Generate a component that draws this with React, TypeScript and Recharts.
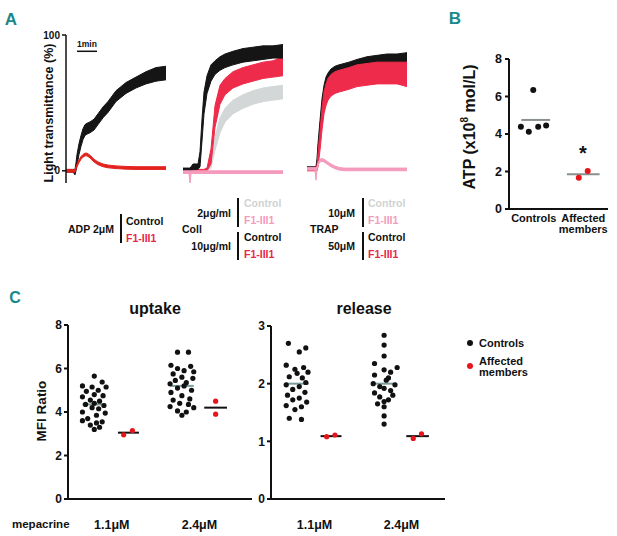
import React from 'react'
import { ComposedChart, Area, XAxis, YAxis, ReferenceLine, ScatterChart, Scatter } from 'recharts'

const FONT = '"Liberation Sans", Arial, sans-serif'
const TEAL = '#17898b'
const INK = '#111'

// ---- Panel A: aggregation traces (seconds after start, % transmittance band low/high) ----
const TIME = [0, 18, 21, 24, 27, 30, 33, 39, 45, 51, 57, 63, 72, 84, 96, 111, 126, 150, 180, 210, 240, 270, 300]

const adpCtrlLo = [-1, -1, -1, -2, -3, 0, 4, 12, 18, 23, 26, 27, 28, 30, 34, 39, 43, 51, 57, 61, 64, 66, 67]
const adpCtrlHi = [1, 1, 1, 1, 1, 6, 12, 20, 26, 31, 34, 35, 36, 38, 42, 47, 51, 59, 65, 69, 73, 76, 77]
const adpPatLo = [-1, -1, -1, -1, -1, 1, 3, 6, 8.5, 10, 11, 11, 9.5, 6.5, 4.5, 3, 2.2, 1.6, 1.2, 1, 1, 1, 1]
const adpPatHi = [1, 1, 1, 1, 1, 3, 5, 8, 10.5, 12, 13, 13, 11.5, 8.5, 6.5, 5, 4.2, 3.6, 3.2, 3, 3, 3, 3]

const coll10CtrlLo = [0, 0, 0, 0, 0, 1, 1, 1, 1, 3, 22, 42, 57, 66, 71, 74, 76, 78, 80, 81, 82, 83, 83]
const coll10CtrlHi = [2, 2, 2, 3, 4, 5, 5, 5, 5, 14, 38, 58, 70, 78, 81, 84, 86, 88, 90, 91, 92, 92, 93]
const coll10PatLo = [-1, -1, -1, -1, -1, -1, -1, -1, -1, -1, -1, -1, 0, 5, 32, 49, 56, 61, 64, 66, 68, 69, 70]
const coll10PatHi = [1, 1, 1, 1, 1, 1, 1, 1, 1, 1, 1, 1, 2, 16, 48, 63, 68, 73, 76, 78, 80, 81, 84]
const coll2CtrlLo = [-1, -1, -1, -1, -1, -1, -1, -1, -1, -1, -1, -1, 0, 2, 15, 28, 36, 42, 46, 49, 51, 52, 53]
const coll2CtrlHi = [1, 1, 1, 1, 1, 1, 1, 1, 1, 1, 1, 1, 2, 9, 25, 39, 46, 52, 56, 59, 61, 62, 63]
const coll2PatLo = [-2, -2, -9, -2, -2, -2, -2, -2, -2, -2, -2, -2, -2, -2, -2, -2, -2, -2, -2, -2, -2, -2, -2]
const coll2PatHi = [0, 0, 0, 0, 0, 0, 0, 0, 0, 0, 0, 0, 0, 0, 0, 0, 0, 0, 0, 0, 0, 0, 0]

const trap50CtrlLo = [1, 1, 1, 1, 1, 3, 10, 27, 43, 53, 59, 62, 65, 67, 68, 69, 70, 72, 74, 75, 76, 77, 77]
const trap50CtrlHi = [3, 3, 3, 3, 3, 9, 20, 37, 53, 63, 69, 72, 75, 77, 78, 79, 80, 82, 84, 85, 86, 86, 87]
const trap10CtrlLo = [0, 0, 0, 0, 0, 1, 7, 23, 39, 49, 55, 58, 61, 63, 65, 66, 67, 69, 71, 72, 73, 73, 74]
const trap10CtrlHi = [2, 2, 2, 2, 2, 7, 17, 33, 49, 59, 65, 68, 71, 73, 75, 76, 77, 79, 81, 82, 83, 83, 84]
const trap50PatLo = [0, 0, 0, 0, 0, 0, 3, 15, 30, 42, 48, 52, 55, 57, 58, 59, 60, 62, 63, 64, 64, 64, 62]
const trap50PatHi = [2, 2, 2, 2, 2, 4, 13, 29, 46, 58, 64, 68, 71, 73, 74, 75, 76, 78, 79, 80, 80, 80, 80]
const trap10PatLo = [0.5, 0.5, 0.5, 0.5, -7, 1, 4, 6.5, 7, 6.5, 5.5, 4.5, 3, 1.5, 0.5, 0, 0, 0, 0, 0, 0, 0, 0]
const trap10PatHi = [2.5, 2.5, 2.5, 2.5, 2.5, 3, 6, 8.5, 9, 8.5, 7.5, 6.5, 5, 3.5, 2.5, 2, 2, 2, 2, 2, 2, 2, 2]

const BLACK = '#151515'
const RED_ADP = '#e3231d'
const RED = '#ef2b4b'
const GREY = '#d3d7d7'
const PINK = '#f59bbd'

// ---- Panel B: ATP ----
const atpControls = [6.35, 4.39, 4.12, 4.39, 4.45]
const atpControlsDx = [0.49, 0.24, 0.4, 0.59, 0.75]
const atpAffected = [1.67, 2.03]
const atpAffectedDx = [1.41, 1.59]
const atpMeans = [4.75, 1.85]

// ---- Panel C: mepacrine ----
const GROUP_X = [0.6, 1.38, 2.6, 3.37]

const upCtrl11 = [5.65, 5.38, 5.2, 5.15, 5.15, 5.0, 4.95, 4.8, 4.75, 4.7, 4.55, 4.5, 4.4, 4.35, 4.3, 4.2, 4.15, 4.0, 3.95, 3.85, 3.7, 3.6, 3.55, 3.5, 3.4, 3.3, 3.2]
const upCtrl11Dx = [0, 0.18, -0.27, -0.05, 0.27, 0.09, -0.18, 0, 0.2, -0.27, -0.09, 0.12, 0, -0.2, 0.22, -0.05, 0.1, -0.27, 0.25, 0.05, -0.15, -0.27, 0.18, 0.05, -0.09, 0.12, 0]
const upCtrl24 = [6.75, 6.75, 6.15, 6.1, 6.0, 5.9, 5.85, 5.75, 5.6, 5.55, 5.45, 5.35, 5.3, 5.2, 5.1, 5.0, 4.9, 4.75, 4.6, 4.55, 4.4, 4.35, 4.25, 4.2, 4.05, 4.0, 3.85]
const upCtrl24Dx = [-0.1, 0.15, -0.25, 0.2, -0.1, 0.05, 0.27, -0.2, 0, 0.25, -0.15, 0.1, -0.27, 0.05, -0.1, 0.22, -0.25, 0, 0.18, -0.2, -0.05, 0.15, -0.27, 0.27, -0.1, 0.1, 0]
const upAff11 = [2.95, 3.15]
const upAff11Dx = [-0.11, 0.09]
const upAff24 = [4.5, 3.9]
const upAff24Dx = [0, 0]
const upMeans = [4.35, 3.05, 5.2, 4.2]

const relCtrl11 = [2.7, 2.62, 2.55, 2.32, 2.28, 2.25, 2.2, 2.18, 2.12, 2.1, 2.02, 1.98, 1.95, 1.9, 1.85, 1.8, 1.75, 1.72, 1.68, 1.62, 1.6, 1.55, 1.4, 1.38]
const relCtrl11Dx = [-0.2, 0.2, 0.05, -0.25, 0.15, -0.05, 0.25, 0, -0.18, 0.12, 0.2, -0.25, 0.05, -0.1, 0.18, -0.22, 0.05, -0.1, 0.22, -0.25, 0.1, -0.05, -0.18, 0.1]
const relCtrl24 = [2.84, 2.67, 2.48, 2.35, 2.28, 2.24, 2.2, 2.15, 2.1, 2.06, 2.0, 1.98, 1.95, 1.92, 1.88, 1.84, 1.8, 1.77, 1.72, 1.69, 1.65, 1.6, 1.44, 1.3]
const relCtrl24Dx = [0, 0, 0, -0.22, 0.3, 0, 0.15, -0.22, 0.1, 0.05, -0.25, 0.25, -0.1, 0, 0.15, -0.22, 0.2, -0.1, 0.1, 0, -0.15, 0, 0, 0]
const relAff11 = [1.08, 1.11]
const relAff11Dx = [-0.1, 0.09]
const relAff24 = [1.05, 1.13]
const relAff24Dx = [-0.1, 0.09]
const relMeans = [2.0, 1.09, 2.0, 1.09]

const DOT_RED = '#e8141c'
const MEAN_GREY = '#7c9c9c'

type Band = { key: string; lo: number[]; hi: number[]; color: string }

function buildRows(bands: Band[]) {
  return TIME.map((t, i) => {
    const row: Record<string, unknown> = { t }
    bands.forEach(b => {
      row[b.key] = [b.lo[i], b.hi[i]]
    })
    return row
  })
}

function toPoints(values: number[], dx: number[], center = 0) {
  return values.map((y, i) => ({ x: center + dx[i], y }))
}

function Txt({ x, y, children, size = 10.5, color = INK, align = 'left', family = FONT }: any) {
  const tx = align === 'center' ? '-50%' : align === 'right' ? '-100%' : '0'
  return (
    <div
      style={{
        position: 'absolute',
        left: x,
        top: y,
        transform: `translate(${tx}, -50%)`,
        fontSize: size,
        fontWeight: 700,
        color,
        fontFamily: family,
        whiteSpace: 'nowrap',
        lineHeight: 1,
      }}
    >
      {children}
    </div>
  )
}

function VTxt({ x, y, children, size = 13 }: any) {
  return (
    <div
      style={{
        position: 'absolute',
        left: x,
        top: y,
        transform: 'translate(-50%, -50%) rotate(-90deg)',
        fontSize: size,
        fontWeight: 700,
        color: INK,
        fontFamily: FONT,
        whiteSpace: 'nowrap',
        lineHeight: 1,
      }}
    >
      {children}
    </div>
  )
}

function Bar({ x, y1, y2 }: { x: number; y1: number; y2: number }) {
  return <div style={{ position: 'absolute', left: x, top: y1, width: 1.5, height: y2 - y1, background: INK }} />
}

function TraceChart({ left, bands, withAxis }: { left: number; bands: Band[]; withAxis?: boolean }) {
  const rows = buildRows(bands)
  return (
    <div style={{ position: 'absolute', left, top: 0 }}>
      <ComposedChart
        width={withAxis ? 170 : 100}
        height={190}
        data={rows}
        margin={{ top: 35, right: withAxis ? 4 : 0, bottom: 7, left: withAxis ? 36 : 0 }}
      >
        <XAxis dataKey="t" type="number" domain={[0, 300]} hide />
        <YAxis
          type="number"
          domain={[-9, 100]}
          ticks={[0, 100]}
          hide={!withAxis}
          width={30}
          tickSize={4}
          tickMargin={2}
          axisLine={{ stroke: INK, strokeWidth: 1.5 }}
          tickLine={{ stroke: INK, strokeWidth: 1.5 }}
          tick={{ fontSize: 10, fontWeight: 700, fill: INK, fontFamily: FONT }}
        />
        {bands.map(b => (
          <Area
            key={b.key}
            dataKey={b.key}
            type="linear"
            stroke={b.color}
            strokeWidth={1}
            fill={b.color}
            fillOpacity={1}
            dot={false}
            activeDot={false}
            isAnimationActive={false}
          />
        ))}
        {withAxis && (
          <ReferenceLine
            segment={[
              { x: 33, y: 88 },
              { x: 93, y: 88 },
            ]}
            stroke={INK}
            strokeWidth={1.5}
          />
        )}
      </ComposedChart>
    </div>
  )
}

const dot = (color: string, r: number) => (p: any) => <circle cx={p.cx} cy={p.cy} r={r} fill={color} />

const axisStyle = { stroke: INK, strokeWidth: 2 }
const tickFont = { fontSize: 12, fontWeight: 700, fill: INK, fontFamily: FONT }

function BTick({ x, y, payload }: any) {
  const lines = payload.value < 1 ? ['Controls'] : ['Affected', 'members']
  return (
    <text x={x} y={y} textAnchor="middle" fontSize={11} fontWeight={700} fill={INK} fontFamily={FONT}>
      {lines.map((l, i) => (
        <tspan key={l} x={x} dy={i === 0 ? 5 : 11}>
          {l}
        </tspan>
      ))}
    </text>
  )
}

function CTick({ x, y, payload }: any) {
  return (
    <text x={x} y={y + 22} textAnchor="middle" fontSize={12.5} fontWeight={700} fill={INK} fontFamily={FONT}>
      {payload.value === 1 ? '1.1μM' : '2.4μM'}
    </text>
  )
}

function meanSeg(cx: number, y: number, half: number, color: string, key: string) {
  return (
    <ReferenceLine
      key={key}
      segment={[
        { x: cx - half, y },
        { x: cx + half, y },
      ]}
      stroke={color}
      strokeWidth={2}
    />
  )
}

function MepacrineChart(props: {
  left: number
  top: number
  width: number
  marginLeft: number
  marginRight: number
  xMax: number
  yMax: number
  yTicks: number[]
  groups: { y: number[]; dx: number[] }[]
  means: number[]
}) {
  const { groups, means } = props
  const colors = [INK, DOT_RED, INK, DOT_RED]
  const meanColors = [MEAN_GREY, INK, MEAN_GREY, INK]
  const halves = [0.27, 0.24, 0.27, 0.26]
  return (
    <div style={{ position: 'absolute', left: props.left, top: 300 }}>
      <ScatterChart
        width={props.width}
        height={236}
        margin={{ top: props.top, right: props.marginRight, bottom: 0, left: props.marginLeft }}
      >
        <XAxis
          type="number"
          dataKey="x"
          domain={[0, props.xMax]}
          ticks={[1, 3]}
          interval={0}
          height={37}
          tickLine={false}
          axisLine={axisStyle}
          tick={CTick}
        />
        <YAxis
          type="number"
          dataKey="y"
          domain={[0, props.yMax]}
          ticks={props.yTicks}
          interval={0}
          width={30}
          tickSize={4}
          tickMargin={2}
          axisLine={axisStyle}
          tickLine={axisStyle}
          tick={tickFont}
        />
        {groups.map((g, i) => (
          <Scatter
            key={i}
            data={toPoints(g.y, g.dx, GROUP_X[i])}
            shape={dot(colors[i], 2.6)}
            isAnimationActive={false}
          />
        ))}
        {means.map((m, i) => meanSeg(GROUP_X[i], m, halves[i], meanColors[i], 'm' + i))}
      </ScatterChart>
    </div>
  )
}

export default function App() {
  return (
    <div
      style={{
        position: 'absolute',
        left: 0,
        top: 0,
        width: 617,
        height: 536,
        background: '#fff',
        overflow: 'hidden',
        fontFamily: FONT,
      }}
    >
      {/* Panel A */}
      <Txt x={11} y={19} size={17} color={TEAL} align="center" family='"Liberation Sans Narrow", "Liberation Sans", Arial'>
        A
      </Txt>
      <TraceChart
        left={0}
        withAxis
        bands={[
          { key: 'ctrl', lo: adpCtrlLo, hi: adpCtrlHi, color: BLACK },
          { key: 'pat', lo: adpPatLo, hi: adpPatHi, color: RED_ADP },
        ]}
      />
      <TraceChart
        left={183}
        bands={[
          { key: 'c2', lo: coll2CtrlLo, hi: coll2CtrlHi, color: GREY },
          { key: 'p10', lo: coll10PatLo, hi: coll10PatHi, color: RED },
          { key: 'c10', lo: coll10CtrlLo, hi: coll10CtrlHi, color: BLACK },
          { key: 'p2', lo: coll2PatLo, hi: coll2PatHi, color: PINK },
        ]}
      />
      <TraceChart
        left={307}
        bands={[
          { key: 'c10', lo: trap10CtrlLo, hi: trap10CtrlHi, color: GREY },
          { key: 'c50', lo: trap50CtrlLo, hi: trap50CtrlHi, color: BLACK },
          { key: 'p50', lo: trap50PatLo, hi: trap50PatHi, color: RED },
          { key: 'p10', lo: trap10PatLo, hi: trap10PatHi, color: PINK },
        ]}
      />
      <Txt x={87} y={44} size={8.5} align="center">
        1min
      </Txt>
      <VTxt x={49} y={113} size={12.5}>
        Light transmittance (%)
      </VTxt>

      <Txt x={68} y={229}>ADP 2μM</Txt>
      <Bar x={120} y1={214} y2={243} />
      <Txt x={126} y={221}>Control</Txt>
      <Txt x={126} y={238} color="#e8264a">F1-III1</Txt>

      <Txt x={182} y={229}>Coll</Txt>
      <Txt x={231} y={213} align="right">2μg/ml</Txt>
      <Txt x={231} y={246} align="right">10μg/ml</Txt>
      <Bar x={237} y1={198} y2={227} />
      <Bar x={237} y1={232} y2={260} />
      <Txt x={244} y={203} color="#cfd3d3">Control</Txt>
      <Txt x={244} y={220} color={PINK}>F1-III1</Txt>
      <Txt x={244} y={237}>Control</Txt>
      <Txt x={244} y={254} color="#e8264a">F1-III1</Txt>

      <Txt x={310} y={229}>TRAP</Txt>
      <Txt x={355} y={213} align="right">10μM</Txt>
      <Txt x={355} y={246} align="right">50μM</Txt>
      <Bar x={362} y1={198} y2={227} />
      <Bar x={362} y1={232} y2={260} />
      <Txt x={368} y={203} color="#cfd3d3">Control</Txt>
      <Txt x={368} y={220} color={PINK}>F1-III1</Txt>
      <Txt x={368} y={237}>Control</Txt>
      <Txt x={368} y={254} color="#e8264a">F1-III1</Txt>

      {/* Panel B */}
      <Txt x={455} y={18} size={17} color={TEAL} align="center" family='"Liberation Sans Narrow", "Liberation Sans", Arial'>
        B
      </Txt>
      <div style={{ position: 'absolute', left: 460, top: 0 }}>
        <ScatterChart width={157} height={241} margin={{ top: 59, right: 9, bottom: 2, left: 19 }}>
          <XAxis
            type="number"
            dataKey="x"
            domain={[0, 2]}
            ticks={[0.5, 1.5]}
            interval={0}
            height={30}
            tickLine={false}
            axisLine={axisStyle}
            tick={BTick}
          />
          <YAxis
            type="number"
            dataKey="y"
            domain={[0, 8]}
            ticks={[0, 2, 4, 6, 8]}
            interval={0}
            width={30}
            tickSize={4}
            tickMargin={3}
            axisLine={axisStyle}
            tickLine={axisStyle}
            tick={{ ...tickFont, fontSize: 12.5 }}
          />
          {meanSeg(0.54, atpMeans[0], 0.29, '#8a9090', 'bm0')}
          {meanSeg(1.5, atpMeans[1], 0.33, '#8a9090', 'bm1')}
          <Scatter data={toPoints(atpControls, atpControlsDx)} shape={dot(INK, 3)} isAnimationActive={false} />
          <Scatter data={toPoints(atpAffected, atpAffectedDx)} shape={dot(DOT_RED, 3)} isAnimationActive={false} />
        </ScatterChart>
      </div>
      <VTxt x={469} y={127} size={16}>
        ATP (x10<sup style={{ fontSize: 10 }}>8</sup> mol/L)
      </VTxt>
      <Txt x={583} y={153} size={20} align="center">
        *
      </Txt>

      {/* Panel C */}
      <Txt x={15} y={297.5} size={16} color={TEAL} align="center" family='"Liberation Sans Narrow", "Liberation Sans", Arial'>
        C
      </Txt>
      <Txt x={155} y={309} size={16} align="center">
        uptake
      </Txt>
      <Txt x={364} y={309} size={16} align="center">
        release
      </Txt>
      <VTxt x={42} y={411} size={13.5}>
        MFI Ratio
      </VTxt>
      <Txt x={12} y={525} size={11.5}>
        mepacrine
      </Txt>
      <MepacrineChart
        left={0}
        top={25}
        width={262}
        marginLeft={38}
        marginRight={10}
        xMax={4.2}
        yMax={8}
        yTicks={[0, 2, 4, 6, 8]}
        groups={[
          { y: upCtrl11, dx: upCtrl11Dx },
          { y: upAff11, dx: upAff11Dx },
          { y: upCtrl24, dx: upCtrl24Dx },
          { y: upAff24, dx: upAff24Dx },
        ]}
        means={upMeans}
      />
      <MepacrineChart
        left={230}
        top={26}
        width={230}
        marginLeft={11}
        marginRight={15}
        xMax={4}
        yMax={3}
        yTicks={[0, 1, 2, 3]}
        groups={[
          { y: relCtrl11, dx: relCtrl11Dx },
          { y: relAff11, dx: relAff11Dx },
          { y: relCtrl24, dx: relCtrl24Dx },
          { y: relAff24, dx: relAff24Dx },
        ]}
        means={relMeans}
      />
      <div style={{ position: 'absolute', left: 467, top: 340, width: 6, height: 6, borderRadius: 3, background: INK }} />
      <Txt x={479} y={343} size={11}>Controls</Txt>
      <div style={{ position: 'absolute', left: 467, top: 363, width: 6, height: 6, borderRadius: 3, background: DOT_RED }} />
      <Txt x={479} y={361} size={11}>Affected</Txt>
      <Txt x={479} y={372} size={11}>members</Txt>
    </div>
  )
}
